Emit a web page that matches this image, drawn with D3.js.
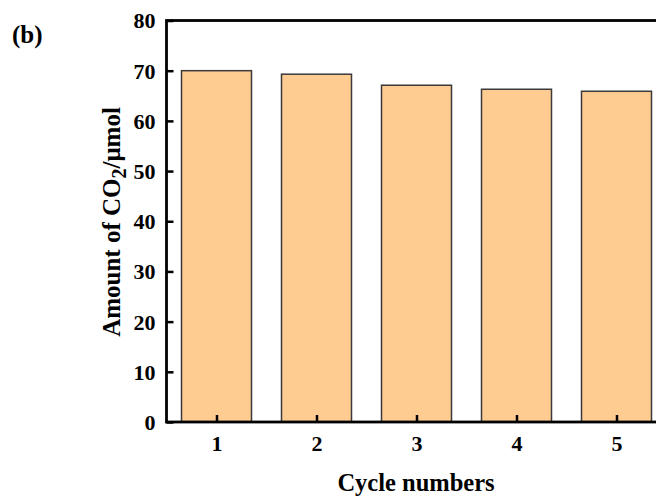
<!DOCTYPE html>
<html>
<head>
<meta charset="utf-8">
<script src="https://cdn.jsdelivr.net/npm/d3@7"></script>
<style>
  html, body { margin: 0; padding: 0; background: #fff; }
  svg { display: block; }
  text { font-family: "Liberation Serif", "Times New Roman", serif; font-weight: bold; fill: #000; }
</style>
</head>
<body>
<svg id="chart" width="656" height="499"></svg>
<script>
// Cycle-stability data: CO2 produced per cycle
const cycles = [1, 2, 3, 4, 5];
const co2Amount = [70.0, 69.3, 67.1, 66.3, 65.9];
const yTicks = [0, 10, 20, 30, 40, 50, 60, 70, 80];
const xTicks = [1, 2, 3, 4, 5];

const svg = d3.select("#chart");
const plot = { left: 166.5, right: 666.5, top: 20.5, bottom: 422 };

const x = d3.scaleLinear().domain([0.5, 5.5]).range([plot.left, plot.right]);
const y = d3.scaleLinear().domain([0, 80]).range([plot.bottom, plot.top]);
const barW = (x(1) - x(0)) * 0.7;

// bars
svg.append("g").selectAll("rect")
  .data(cycles.map((c, i) => ({ c, v: co2Amount[i] })))
  .join("rect")
  .attr("x", d => x(d.c) - barW / 2)
  .attr("y", d => y(d.v))
  .attr("width", barW)
  .attr("height", d => y(0) - y(d.v))
  .attr("fill", "#FECB91")
  .attr("stroke", "#3a3a3a")
  .attr("stroke-width", 1.5);

// axes with inward ticks
const yAxis = d3.axisLeft(y).tickValues(yTicks).tickSize(-7).tickPadding(11).tickSizeOuter(0);
const gy = svg.append("g").attr("transform", `translate(${plot.left},0)`).call(yAxis);
gy.selectAll("text").attr("font-size", 22).attr("dy", "0.34em");

const xAxis = d3.axisBottom(x).tickValues(xTicks).tickFormat(d3.format("d")).tickSize(-7).tickPadding(13).tickSizeOuter(0);
const gx = svg.append("g").attr("transform", `translate(0,${plot.bottom})`).call(xAxis);
gx.selectAll("text").attr("font-size", 22);

[gx, gy].forEach(g => {
  g.select(".domain").remove();
  g.selectAll(".tick line").attr("stroke", "#000").attr("stroke-width", 2.5);
  g.selectAll("text").style("font-family", "Liberation Serif").style("font-weight", "bold");
});

// frame
svg.append("rect")
  .attr("x", plot.left).attr("y", plot.top)
  .attr("width", plot.right - plot.left).attr("height", plot.bottom - plot.top)
  .attr("fill", "none").attr("stroke", "#000").attr("stroke-width", 2.8);

// axis titles
svg.append("text")
  .attr("x", 416).attr("y", 491)
  .attr("text-anchor", "middle").attr("font-size", 24.5)
  .text("Cycle numbers");

const yt = svg.append("text")
  .attr("transform", `translate(120,222) rotate(-90)`)
  .attr("text-anchor", "middle").attr("font-size", 25);
yt.append("tspan").text("Amount of CO");
yt.append("tspan").attr("dy", 6).attr("font-size", 20).text("2");
yt.append("tspan").attr("dy", -6).text("/μmol");

// panel label
svg.append("text").attr("x", 12).attr("y", 43).attr("font-size", 25).text("(b)");
</script>
</body>
</html>
